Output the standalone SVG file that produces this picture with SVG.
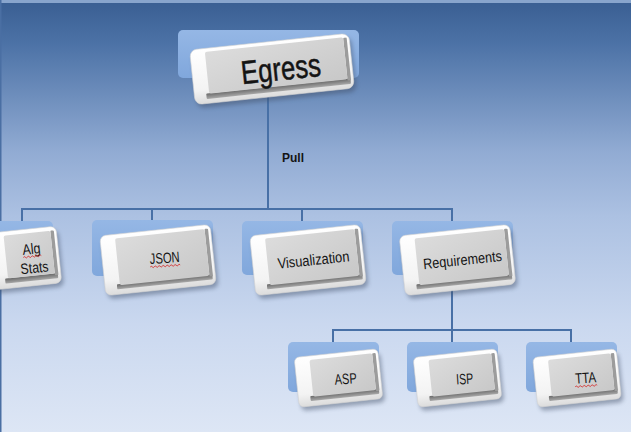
<svg xmlns="http://www.w3.org/2000/svg" width="631" height="432" viewBox="0 0 631 432">
<defs>
<linearGradient id="bg" x1="0" y1="0" x2="0" y2="1">
<stop offset="0" stop-color="#395e92"/>
<stop offset="0.1" stop-color="#4c72a6"/>
<stop offset="0.35" stop-color="#91abd3"/>
<stop offset="0.5" stop-color="#acc1e2"/>
<stop offset="0.75" stop-color="#cad8ef"/>
<stop offset="1" stop-color="#dde6f5"/>
</linearGradient>
<linearGradient id="bev" x1="0" y1="0" x2="0" y2="1">
<stop offset="0" stop-color="#ffffff"/>
<stop offset="0.75" stop-color="#f3f3f3"/>
<stop offset="1" stop-color="#dcdcdc"/>
</linearGradient>
<linearGradient id="face" x1="0" y1="0" x2="1" y2="1">
<stop offset="0" stop-color="#dcdcdc"/>
<stop offset="1" stop-color="#c8c8c8"/>
</linearGradient>
<linearGradient id="band" x1="0" y1="0" x2="0" y2="1">
<stop offset="0" stop-color="#6a6a6a"/>
<stop offset="1" stop-color="#a8a8a8"/>
</linearGradient>
<linearGradient id="back" x1="0" y1="0" x2="0" y2="1">
<stop offset="0" stop-color="#95b7e5"/>
<stop offset="1" stop-color="#80a7dc"/>
</linearGradient>
<filter id="sh" x="-20%" y="-20%" width="140%" height="160%">
<feGaussianBlur stdDeviation="2"/>
</filter>
<g id="keyL">
<rect x="-53.5" y="-26" width="111" height="60" rx="6" fill="#3d4c63" opacity="0.45" filter="url(#sh)"/>
<rect x="-55.5" y="-30" width="111" height="60" rx="6" fill="url(#bev)" stroke="#d4d4d4" stroke-width="0.6"/>
<rect x="-43.5" y="20" width="96" height="5" rx="1" fill="url(#band)"/>
<rect x="49.5" y="-26" width="3.5" height="48" rx="1" fill="#9c9c9c"/>
<rect x="-40.5" y="-26" width="90" height="47" rx="2" fill="url(#face)"/>
</g>
<g id="keyS">
<rect x="-40" y="-21" width="84" height="50" rx="5" fill="#3d4c63" opacity="0.45" filter="url(#sh)"/>
<rect x="-42" y="-25" width="84" height="50" rx="5" fill="url(#bev)" stroke="#d4d4d4" stroke-width="0.6"/>
<rect x="-30" y="15" width="69" height="5" rx="1" fill="url(#band)"/>
<rect x="36" y="-21" width="3.5" height="38" rx="1" fill="#9c9c9c"/>
<rect x="-27" y="-21" width="63" height="37" rx="2" fill="url(#face)"/>
</g>
</defs>
<style>
.t{font-family:"Liberation Sans",Arial,sans-serif;fill:#141414;text-anchor:middle}
.k{font-size:15px}
.c{fill:none;stroke:#4870a6;stroke-width:2}
.bk{fill:url(#back)}
.sq{fill:none;stroke:#d42020;stroke-width:0.8}
</style>
<rect x="0" y="0" width="631" height="432" fill="url(#bg)"/>
<rect x="0" y="0" width="631" height="3" fill="#88a5cd"/>
<rect x="0" y="0" width="1.5" height="432" fill="#4a6fa3"/>

<g id="connectors">
<path class="c" d="M268 70 V209"/>
<path class="c" d="M22 221 V209 H452 V221"/>
<path class="c" d="M152 209 V221"/>
<path class="c" d="M302 209 V221"/>
<path class="c" d="M452 270 V330"/>
<path class="c" d="M333 342 V330 H571 V342"/>
<path class="c" d="M452 330 V342"/>
<text class="t" x="293" y="162" font-size="12" font-weight="bold" fill="#111">Pull</text>
</g>

<g id="node-egress">
<rect class="bk" x="178" y="30" width="181" height="48" rx="5"/>
<g transform="translate(272,69) rotate(-6)">
<rect x="-78" y="-23.5" width="160" height="55" rx="7" fill="#3d4c63" opacity="0.45" filter="url(#sh)"/>
<rect x="-80" y="-27.5" width="160" height="55" rx="7" fill="url(#bev)" stroke="#d4d4d4" stroke-width="0.6"/>
<rect x="-68" y="17.5" width="145" height="5.5" rx="1" fill="url(#band)"/>
<rect x="74" y="-23.5" width="3.5" height="43" rx="1" fill="#9c9c9c"/>
<rect x="-65" y="-24" width="139" height="42" rx="2" fill="url(#face)"/>
</g>
<text class="t" x="282" y="80" font-size="33" textLength="80" lengthAdjust="spacingAndGlyphs" stroke="#141414" stroke-width="0.5" transform="rotate(-6 282 80)">Egress</text>
</g>

<g id="node-algstats">
<rect class="bk" x="-10" y="221" width="63" height="56" rx="5"/>
<g transform="translate(25,258) rotate(-6)">
<rect x="-32" y="-24.5" width="68" height="57" rx="6" fill="#3d4c63" opacity="0.45" filter="url(#sh)"/>
<rect x="-34" y="-28.5" width="68" height="57" rx="6" fill="url(#bev)" stroke="#d4d4d4" stroke-width="0.6"/>
<rect x="-22" y="18.5" width="53" height="5" rx="1" fill="url(#band)"/>
<rect x="28" y="-24.5" width="3.5" height="45" rx="1" fill="#9c9c9c"/>
<rect x="-19" y="-24.5" width="47" height="43" rx="2" fill="url(#face)"/>
</g>
<g transform="rotate(-6 33 263)">
<text class="t k" x="33" y="254" textLength="18" lengthAdjust="spacingAndGlyphs">Alg</text>
<path class="sq" d="M24 256.5 q1 -1.5 2 0 t2 0 t2 0 t2 0 t2 0 t2 0 t2 0 t2 0 t2 0"/>
<text class="t k" x="34" y="273" textLength="28" lengthAdjust="spacingAndGlyphs">Stats</text>
</g>
</g>

<g id="node-json">
<rect class="bk" x="92" y="220" width="121" height="56" rx="5"/>
<use href="#keyL" transform="translate(158,260) rotate(-6)"/>
<text class="t k" x="165" y="263" textLength="30" lengthAdjust="spacingAndGlyphs" transform="rotate(-4 165 263)">JSON</text>
<path class="sq" d="M150 266 q1 -1.5 2 0 t2 0 t2 0 t2 0 t2 0 t2 0 t2 0 t2 0 t2 0 t2 0 t2 0 t2 0 t2 0 t2 0 t2 0" transform="rotate(-4 165 263)"/>
</g>

<g id="node-visualization">
<rect class="bk" x="242" y="221" width="121" height="54" rx="5"/>
<use href="#keyL" transform="translate(308,260) rotate(-6)"/>
<text class="t k" x="314" y="265" textLength="72" lengthAdjust="spacingAndGlyphs" transform="rotate(-6 314 265)">Visualization</text>
</g>

<g id="node-requirements">
<rect class="bk" x="392" y="221" width="121" height="54" rx="5"/>
<use href="#keyL" transform="translate(457.5,260) rotate(-6)"/>
<text class="t k" x="463" y="265" textLength="79" lengthAdjust="spacingAndGlyphs" transform="rotate(-6 463 265)">Requirements</text>
</g>

<g id="node-asp">
<rect class="bk" x="288" y="342" width="91" height="50" rx="5"/>
<use href="#keyS" transform="translate(338.5,378) rotate(-6)"/>
<text class="t k" x="346" y="384" textLength="22" lengthAdjust="spacingAndGlyphs" transform="rotate(-4 346 384)">ASP</text>
</g>

<g id="node-isp">
<rect class="bk" x="407" y="342" width="91" height="50" rx="5"/>
<use href="#keyS" transform="translate(457.5,378) rotate(-6)"/>
<text class="t k" x="465" y="384" textLength="17" lengthAdjust="spacingAndGlyphs" transform="rotate(-4 465 384)">ISP</text>
</g>

<g id="node-tta">
<rect class="bk" x="526" y="342" width="91" height="50" rx="5"/>
<use href="#keyS" transform="translate(577,378) rotate(-6)"/>
<g transform="rotate(-4 586 383)">
<text class="t k" x="586" y="383" textLength="21" lengthAdjust="spacingAndGlyphs">TTA</text>
<path class="sq" d="M575 386 q1 -1.5 2 0 t2 0 t2 0 t2 0 t2 0 t2 0 t2 0 t2 0 t2 0 t2 0 t2 0"/>
</g>
</g>
</svg>
